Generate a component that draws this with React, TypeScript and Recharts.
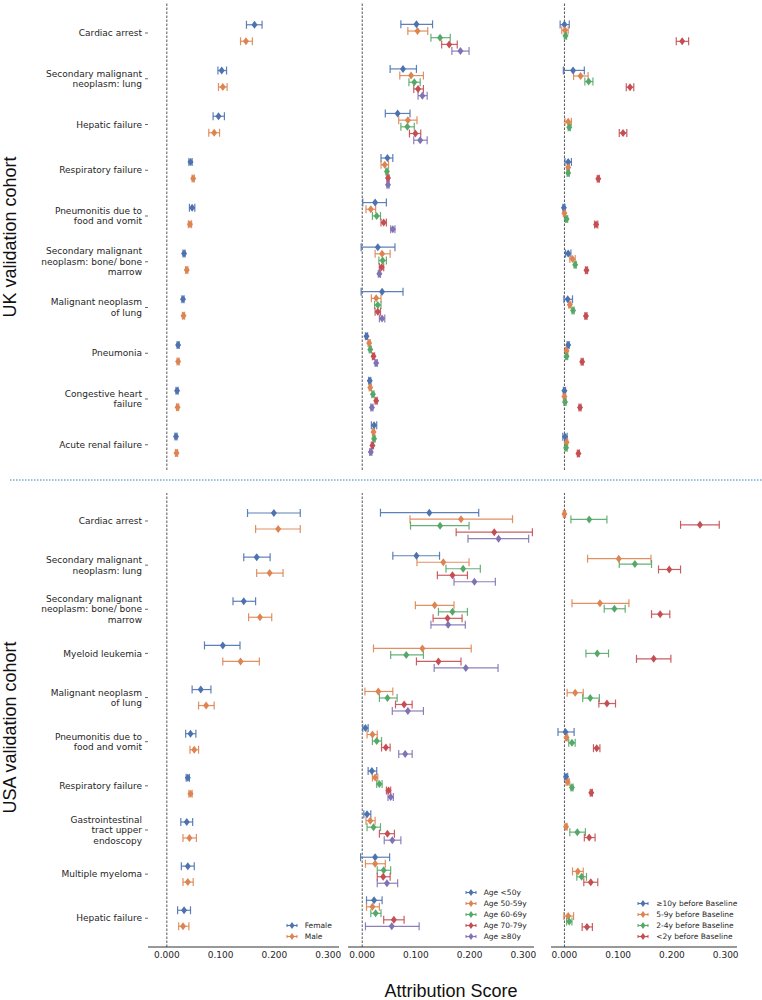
import React from 'react';
import { ScatterChart, Scatter, XAxis, YAxis, ErrorBar, ReferenceLine, Legend } from 'recharts';

type Row = [number, number, number] | null;

// ---------- categories & tick labels ----------
const ukCategories = [
  'Cardiac arrest',
  'Secondary malignant\nneoplasm: lung',
  'Hepatic failure',
  'Respiratory failure',
  'Pneumonitis due to\nfood and vomit',
  'Secondary malignant\nneoplasm: bone/ bone\nmarrow',
  'Malignant neoplasm\nof lung',
  'Pneumonia',
  'Congestive heart\nfailure',
  'Acute renal failure',
];
const usaCategories = [
  'Cardiac arrest',
  'Secondary malignant\nneoplasm: lung',
  'Secondary malignant\nneoplasm: bone/ bone\nmarrow',
  'Myeloid leukemia',
  'Malignant neoplasm\nof lung',
  'Pneumonitis due to\nfood and vomit',
  'Respiratory failure',
  'Gastrointestinal\ntract upper\nendoscopy',
  'Multiple myeloma',
  'Hepatic failure',
];
const xTicks = [0, 0.1, 0.2, 0.3];
const catTicks = [0, 1, 2, 3, 4, 5, 6, 7, 8, 9];

const sexGroups = ['Female', 'Male'];
const ageGroups = ['Age <50y', 'Age 50-59y', 'Age 60-69y', 'Age 70-79y', 'Age \u226580y'];
const timeGroups = ['\u226510y before Baseline', '5-9y before Baseline', '2-4y before Baseline', '<2y before Baseline'];
const palette = ['#4C72B0', '#DD8452', '#55A868', '#C44E52', '#8172B3'];

// ---------- values: [mean, lower, upper] ----------
// UK – sex
const ukFemale: Row[] = [[0.163, 0.148, 0.177], [0.102, 0.095, 0.111], [0.096, 0.086, 0.107], [0.044, 0.041, 0.047], [0.047, 0.042, 0.052], [0.032, 0.030, 0.034], [0.030, 0.028, 0.032], [0.021, 0.019, 0.023], [0.019, 0.017, 0.021], [0.017, 0.015, 0.019]];
const ukMale: Row[] = [[0.147, 0.137, 0.159], [0.104, 0.096, 0.112], [0.088, 0.078, 0.098], [0.049, 0.047, 0.051], [0.043, 0.040, 0.046], [0.037, 0.035, 0.039], [0.031, 0.029, 0.033], [0.021, 0.019, 0.023], [0.020, 0.018, 0.022], [0.018, 0.016, 0.020]];
// UK – age
const ukAge50: Row[] = [[0.101, 0.072, 0.131], [0.076, 0.052, 0.101], [0.066, 0.043, 0.089], [0.047, 0.035, 0.057], [0.024, 0.001, 0.045], [0.029, -0.002, 0.061], [0.037, -0.002, 0.076], [0.008, 0.006, 0.010], [0.014, 0.012, 0.016], [0.022, 0.017, 0.027]];
const ukAge5059: Row[] = [[0.103, 0.085, 0.122], [0.091, 0.070, 0.114], [0.085, 0.068, 0.102], [0.042, 0.035, 0.049], [0.016, 0.007, 0.025], [0.037, 0.024, 0.052], [0.026, 0.017, 0.035], [0.013, 0.011, 0.015], [0.015, 0.013, 0.017], [0.021, 0.019, 0.023]];
const ukAge6069: Row[] = [[0.145, 0.128, 0.164], [0.097, 0.087, 0.108], [0.084, 0.072, 0.097], [0.046, 0.044, 0.048], [0.027, 0.019, 0.034], [0.038, 0.031, 0.045], [0.029, 0.023, 0.035], [0.015, 0.013, 0.017], [0.020, 0.018, 0.022], [0.022, 0.020, 0.024]];
const ukAge7079: Row[] = [[0.162, 0.148, 0.177], [0.104, 0.096, 0.114], [0.099, 0.088, 0.109], [0.048, 0.046, 0.050], [0.040, 0.035, 0.045], [0.036, 0.032, 0.040], [0.029, 0.024, 0.034], [0.021, 0.019, 0.023], [0.026, 0.024, 0.028], [0.019, 0.017, 0.021]];
const ukAge80: Row[] = [[0.183, 0.167, 0.199], [0.112, 0.104, 0.121], [0.108, 0.096, 0.121], [0.048, 0.046, 0.050], [0.057, 0.053, 0.061], [0.032, 0.030, 0.034], [0.037, 0.032, 0.042], [0.026, 0.024, 0.028], [0.018, 0.016, 0.020], [0.016, 0.014, 0.018]];
// UK – time before baseline
const ukTime10: Row[] = [[0.000, -0.008, 0.009], [0.016, -0.002, 0.037], null, [0.007, 0.001, 0.013], [-0.001, -0.003, 0.001], [0.007, 0.002, 0.012], [0.006, -0.001, 0.015], [0.007, 0.005, 0.009], [0.000, -0.002, 0.002], [0.001, -0.003, 0.005]];
const ukTime59: Row[] = [[0.001, -0.005, 0.007], [0.030, 0.017, 0.044], [0.007, 0.001, 0.013], [0.007, 0.005, 0.009], [0.000, -0.002, 0.002], [0.015, 0.010, 0.020], [0.010, 0.008, 0.012], [0.004, 0.002, 0.006], [0.000, -0.002, 0.002], [0.004, 0.002, 0.006]];
const ukTime24: Row[] = [[0.002, 0.000, 0.004], [0.045, 0.038, 0.053], [0.009, 0.007, 0.011], [0.007, 0.005, 0.009], [0.004, 0.002, 0.006], [0.020, 0.018, 0.022], [0.016, 0.014, 0.018], [0.004, 0.002, 0.006], [0.001, -0.001, 0.003], [0.003, 0.001, 0.005]];
const ukTime2: Row[] = [[0.219, 0.208, 0.231], [0.122, 0.115, 0.129], [0.109, 0.102, 0.116], [0.063, 0.061, 0.065], [0.059, 0.056, 0.062], [0.041, 0.039, 0.043], [0.040, 0.038, 0.042], [0.033, 0.031, 0.035], [0.029, 0.027, 0.031], [0.026, 0.024, 0.028]];
// USA – sex
const usaFemale: Row[] = [[0.199, 0.150, 0.248], [0.167, 0.143, 0.192], [0.143, 0.123, 0.165], [0.104, 0.070, 0.136], [0.063, 0.047, 0.082], [0.044, 0.035, 0.054], [0.039, 0.036, 0.042], [0.037, 0.026, 0.048], [0.039, 0.027, 0.051], [0.032, 0.020, 0.044]];
const usaMale: Row[] = [[0.207, 0.165, 0.248], [0.191, 0.167, 0.216], [0.173, 0.152, 0.195], [0.137, 0.104, 0.172], [0.073, 0.059, 0.088], [0.051, 0.043, 0.059], [0.044, 0.041, 0.047], [0.042, 0.030, 0.055], [0.039, 0.030, 0.049], [0.030, 0.022, 0.041]];
// USA – age
const usaAge50: Row[] = [[0.125, 0.034, 0.217], [0.101, 0.057, 0.144], null, null, null, [0.006, 0.001, 0.011], [0.018, 0.011, 0.027], [0.009, 0.003, 0.016], [0.024, -0.003, 0.051], [0.022, 0.008, 0.037]];
const usaAge5059: Row[] = [[0.184, 0.089, 0.280], [0.151, 0.102, 0.199], [0.135, 0.099, 0.171], [0.112, 0.021, 0.203], [0.030, 0.005, 0.057], [0.019, 0.009, 0.028], [0.024, 0.019, 0.029], [0.015, 0.007, 0.024], [0.024, 0.006, 0.043], [0.019, 0.008, 0.032]];
const usaAge6069: Row[] = [[0.145, 0.090, 0.199], [0.188, 0.156, 0.220], [0.168, 0.142, 0.196], [0.082, 0.053, 0.114], [0.047, 0.032, 0.065], [0.027, 0.019, 0.036], [0.032, 0.027, 0.037], [0.021, 0.009, 0.034], [0.040, 0.028, 0.053], [0.025, 0.016, 0.035]];
const usaAge7079: Row[] = [[0.246, 0.175, 0.317], [0.168, 0.140, 0.196], [0.159, 0.132, 0.186], [0.142, 0.101, 0.184], [0.078, 0.062, 0.093], [0.044, 0.036, 0.052], [0.049, 0.045, 0.053], [0.047, 0.032, 0.060], [0.039, 0.028, 0.052], [0.059, 0.040, 0.078]];
const usaAge80: Row[] = [[0.254, 0.197, 0.310], [0.209, 0.171, 0.248], [0.160, 0.128, 0.192], [0.193, 0.134, 0.253], [0.085, 0.056, 0.114], [0.080, 0.068, 0.093], [0.053, 0.048, 0.058], [0.056, 0.041, 0.072], [0.046, 0.028, 0.066], [0.055, 0.006, 0.106]];
// USA – time before baseline
const usaTime10: Row[] = [null, null, null, null, null, [0.002, -0.012, 0.018], [0.003, 0.000, 0.006], null, null, null];
const usaTime59: Row[] = [[0.000, -0.002, 0.002], [0.101, 0.043, 0.161], [0.066, 0.014, 0.120], null, [0.020, 0.005, 0.035], [0.004, 0.002, 0.006], [0.006, 0.003, 0.009], [0.003, 0.001, 0.005], [0.025, 0.015, 0.035], [0.007, -0.001, 0.017]];
const usaTime24: Row[] = [[0.046, 0.012, 0.079], [0.131, 0.102, 0.162], [0.093, 0.074, 0.113], [0.061, 0.040, 0.082], [0.048, 0.034, 0.065], [0.014, 0.008, 0.020], [0.014, 0.012, 0.016], [0.024, 0.010, 0.039], [0.032, 0.023, 0.041], [0.009, 0.004, 0.014]];
const usaTime2: Row[] = [[0.252, 0.216, 0.288], [0.195, 0.175, 0.216], [0.178, 0.162, 0.196], [0.166, 0.134, 0.198], [0.079, 0.064, 0.095], [0.060, 0.054, 0.066], [0.050, 0.048, 0.052], [0.046, 0.037, 0.057], [0.049, 0.036, 0.062], [0.042, 0.033, 0.052]];

// ---------- helpers ----------
const FONT = '"DejaVu Sans", sans-serif';
const TEXT = '#262626';

function toPoints(rows: Row[], k: number, n: number, step: number) {
  const out: { x: number; y: number; err: [number, number] }[] = [];
  rows.forEach((r, i) => {
    if (!r) return;
    out.push({ x: r[0], y: i + (k - (n - 1) / 2) * step, err: [r[0] - r[1], r[2] - r[0]] });
  });
  return out;
}

const Diamond = (props: any) => {
  const { cx, cy, fill } = props;
  if (cx == null || cy == null) return null;
  return <polygon points={`${cx},${cy - 4} ${cx + 3},${cy} ${cx},${cy + 4} ${cx - 3},${cy}`} fill={fill} />;
};

const makeCategoryTick = (labels: string[]) => (props: any) => {
  const { x, y, payload } = props;
  const lines = labels[payload.value].split('\n');
  const lh = 10.5;
  return (
    <text x={x} y={y} textAnchor="end" fontSize={9} fill={TEXT} fontFamily={FONT}>
      {lines.map((l, j) => (
        <tspan key={j} x={x} dy={j === 0 ? -((lines.length - 1) / 2) * lh + 3.2 : lh}>
          {l}
        </tspan>
      ))}
    </text>
  );
};

const makeLegend = (groups: string[]) => (props: any) => {
  const payload: any[] = (props.payload || []).slice();
  payload.sort((a, b) => groups.indexOf(a.value) - groups.indexOf(b.value));
  return (
    <div style={{ fontFamily: FONT, fontSize: 7.5, color: TEXT }}>
      {payload.map((entry: any) => {
        const c = palette[groups.indexOf(entry.value)];
        return (
          <div key={entry.value} style={{ display: 'flex', alignItems: 'center', height: 11, whiteSpace: 'nowrap' }}>
            <svg width={14} height={9} style={{ marginRight: 6, flex: 'none' }}>
              <line x1={2} y1={4.5} x2={12} y2={4.5} stroke={c} strokeWidth={1.2} />
              <line x1={2} y1={3} x2={2} y2={6} stroke={c} strokeWidth={1} />
              <line x1={12} y1={3} x2={12} y2={6} stroke={c} strokeWidth={1} />
              <polygon points="7,1 9.5,4.5 7,8 4.5,4.5" fill={c} />
            </svg>
            <span>{entry.value}</span>
          </div>
        );
      })}
    </div>
  );
};

type PanelProps = {
  left: number;
  top: number;
  plotWidth: number;
  plotHeight: number;
  yAxisWidth: number;
  xAxisHeight: number;
  xDomain: [number, number];
  yDomain: [number, number];
  labels?: string[];
  groups: string[];
  rows: Row[][];
  step: number;
  legendPos?: { left: number; top: number };
};

const RIGHT_PAD = 14;

function Panel(p: PanelProps) {
  const n = p.groups.length;
  return (
    <div style={{ position: 'absolute', left: p.left, top: p.top }}>
      <ScatterChart
        width={p.yAxisWidth + p.plotWidth + RIGHT_PAD}
        height={p.plotHeight + p.xAxisHeight}
        margin={{ top: 0, right: RIGHT_PAD, bottom: 0, left: 0 }}
      >
        <XAxis
          type="number"
          dataKey="x"
          domain={p.xDomain}
          allowDataOverflow
          ticks={xTicks}
          interval={0}
          tickFormatter={(v: number) => v.toFixed(3)}
          hide={!p.xAxisHeight}
          height={p.xAxisHeight || 1}
          tickLine={false}
          tickSize={3}
          tickMargin={2}
          axisLine={{ stroke: '#333', strokeWidth: 1 }}
          tick={{ fontSize: 9, fill: TEXT, fontFamily: FONT }}
        />
        <YAxis
          type="number"
          dataKey="y"
          domain={p.yDomain}
          reversed
          allowDataOverflow
          ticks={catTicks}
          interval={0}
          hide={!p.labels}
          width={p.yAxisWidth || 1}
          axisLine={false}
          tickLine={{ stroke: '#444', strokeWidth: 0.8 }}
          tickSize={3}
          tickMargin={3}
          tick={p.labels ? makeCategoryTick(p.labels) : false}
        />
        <ReferenceLine x={0} stroke="#555" strokeWidth={1} strokeDasharray="2.5 1.5" />
        {p.groups.map((g, k) => (
          <Scatter
            key={g}
            name={g}
            data={toPoints(p.rows[k], k, n, p.step)}
            fill={palette[k]}
            shape={Diamond}
            isAnimationActive={false}
          >
            <ErrorBar
              dataKey="err"
              direction="x"
              width={4}
              stroke={palette[k]}
              strokeWidth={1.2}
              strokeOpacity={0.9}
              isAnimationActive={false}
            />
          </Scatter>
        ))}
        {p.legendPos && (
          <Legend
            layout="vertical"
            align="center"
            verticalAlign="middle"
            itemSorter={null as any}
            content={makeLegend(p.groups)}
            wrapperStyle={{ left: p.legendPos.left, top: p.legendPos.top, width: 130, height: 'auto' }}
          />
        )}
      </ScatterChart>
    </div>
  );
}

export default function App() {
  const UK_TOP = 3;
  const UK_H = 467;
  const US_TOP = 493;
  const US_H = 454;
  const dom1: [number, number] = [-0.035, 0.32];
  const dom2: [number, number] = [-0.0265, 0.32];
  const dom3: [number, number] = [-0.025, 0.321];
  return (
    <div style={{ position: 'absolute', left: 0, top: 0, width: 762, height: 1000, background: '#fff', overflow: 'hidden' }}>
      {/* UK cohort */}
      <Panel left={0} top={UK_TOP} plotWidth={191} plotHeight={UK_H} yAxisWidth={148} xAxisHeight={0}
        xDomain={dom1} yDomain={[-0.656, 9.552]} labels={ukCategories}
        groups={sexGroups} rows={[ukFemale, ukMale]} step={0.36} />
      <Panel left={348} top={UK_TOP} plotWidth={186} plotHeight={UK_H} yAxisWidth={0} xAxisHeight={0}
        xDomain={dom2} yDomain={[-0.779, 9.702]}
        groups={ageGroups} rows={[ukAge50, ukAge5059, ukAge6069, ukAge7079, ukAge80]} step={0.15} />
      <Panel left={551} top={UK_TOP} plotWidth={186} plotHeight={UK_H} yAxisWidth={0} xAxisHeight={0}
        xDomain={dom3} yDomain={[-0.655, 9.546]}
        groups={timeGroups} rows={[ukTime10, ukTime59, ukTime24, ukTime2]} step={0.122} />

      {/* USA cohort */}
      <Panel left={0} top={US_TOP} plotWidth={191} plotHeight={US_H} yAxisWidth={148} xAxisHeight={22}
        xDomain={dom1} yDomain={[-0.634, 9.651]} labels={usaCategories}
        groups={sexGroups} rows={[usaFemale, usaMale]} step={0.362}
        legendPos={{ left: 284.7, top: 426.5 }} />
      <Panel left={348} top={US_TOP} plotWidth={186} plotHeight={US_H} yAxisWidth={0} xAxisHeight={22}
        xDomain={dom2} yDomain={[-0.759, 9.782]}
        groups={ageGroups} rows={[usaAge50, usaAge5059, usaAge6069, usaAge7079, usaAge80]} step={0.151}
        legendPos={{ left: 115.7, top: 393.8 }} />
      <Panel left={551} top={US_TOP} plotWidth={186} plotHeight={US_H} yAxisWidth={0} xAxisHeight={22}
        xDomain={dom3} yDomain={[-0.53, 9.631]}
        groups={timeGroups} rows={[usaTime10, usaTime59, usaTime24, usaTime2]} step={0.121}
        legendPos={{ left: 85.3, top: 404.8 }} />

      {/* titles & divider */}
      <svg width={762} height={1000} style={{ position: 'absolute', left: 0, top: 0, pointerEvents: 'none' }}>
        <line x1={10} y1={480} x2={762} y2={480} stroke="#2f7fb5" strokeWidth={1} strokeDasharray="1.5 1.5" />
        <text transform="translate(15.5,237) rotate(-90)" textAnchor="middle" fontSize={18}
          fontFamily='"Liberation Sans", Arial, sans-serif' fill="#111">UK validation cohort</text>
        <text transform="translate(15.5,727.5) rotate(-90)" textAnchor="middle" fontSize={18}
          fontFamily='"Liberation Sans", Arial, sans-serif' fill="#111">USA validation cohort</text>
        <text x={451} y={997} textAnchor="middle" fontSize={18}
          fontFamily='"Liberation Sans", Arial, sans-serif' fill="#111">Attribution Score</text>
      </svg>
    </div>
  );
}
